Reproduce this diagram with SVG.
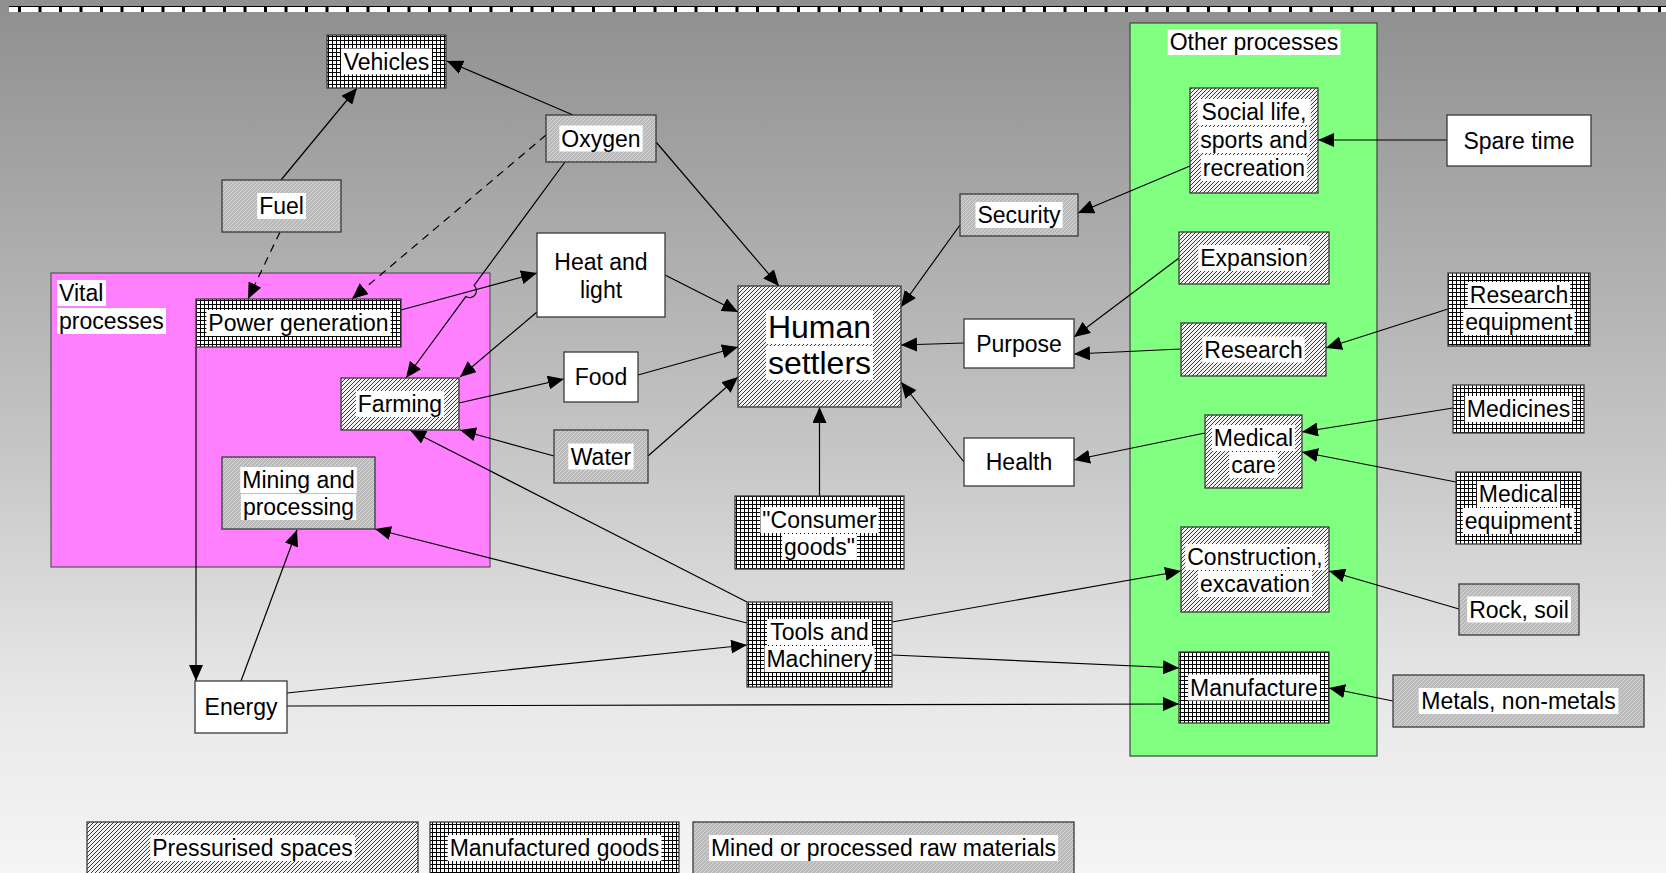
<svg xmlns="http://www.w3.org/2000/svg" width="1666" height="873" viewBox="0 0 1666 873">
<defs>
<linearGradient id="bg" x1="0" y1="0" x2="0" y2="1">
<stop offset="0" stop-color="#8f8f8f"/>
<stop offset="0.5" stop-color="#c4c4c4"/>
<stop offset="0.8" stop-color="#e8e8e8"/>
<stop offset="1" stop-color="#f5f5f5"/>
</linearGradient>
<pattern id="pPress" width="4" height="4" patternUnits="userSpaceOnUse">
<rect width="4" height="4" fill="#f2f2f2"/>
<path d="M-1,1 L1,-1 M0,4 L4,0 M3,5 L5,3" stroke="#3c3c3c" stroke-width="1"/>
</pattern>
<pattern id="pManu" width="4" height="4" patternUnits="userSpaceOnUse">
<rect width="4" height="4" fill="#ffffff"/>
<path d="M0,0.5 H4 M0.5,0 V4" stroke="#000" stroke-width="1"/>
</pattern>
<pattern id="pRaw" width="4" height="4" patternUnits="userSpaceOnUse">
<rect width="4" height="4" fill="#bababa"/>
<path d="M-1,1 L1,-1 M0,4 L4,0 M3,5 L5,3" stroke="#d6d6d6" stroke-width="1"/>
</pattern>
<marker id="arr" markerUnits="userSpaceOnUse" markerWidth="16" markerHeight="14" viewBox="0 0 16 14" refX="16" refY="7" orient="auto">
<path d="M0,0 L16,7 L0,14 z" fill="#000"/>
</marker>
<style>
text { font-family: "Liberation Sans", Arial, sans-serif; font-size: 23px; fill: #000; text-anchor: middle; }
.big { font-size: 32px; }
.left { text-anchor: start; }
.box { stroke: #3a3a3a; stroke-width: 1.3; }
.press { fill: url(#pPress); }
.manu { fill: url(#pManu); }
.raw { fill: url(#pRaw); }
.plain { fill: #ffffff; }
.tbg { fill: #ffffff; }
.edge { stroke: #000; stroke-width: 1.2; fill: none; marker-end: url(#arr); }
.dash { stroke-dasharray: 8 6; }
</style>
</defs>

<rect x="0" y="0" width="1666" height="873" fill="url(#bg)"/>
<g id="top-rule">
<rect x="9" y="6" width="1657" height="6" fill="#ffffff"/>
<line x1="9" y1="6.5" x2="1666" y2="6.5" stroke="#000" stroke-width="1"/>
<line x1="18" y1="9" x2="1666" y2="9" stroke="#000" stroke-width="6" stroke-dasharray="3 17.5"/>
</g>

<g id="vital-processes">
<rect x="51" y="273" width="439" height="294" fill="#ff80ff" stroke="#555" stroke-width="1.2"/>
<rect class="tbg" x="57" y="280" width="49" height="26"/>
<text class="left" x="59" y="301">Vital</text>
<rect class="tbg" x="57" y="308" width="109" height="26"/>
<text class="left" x="59" y="329">processes</text>
</g>

<g id="other-processes">
<rect x="1130" y="23" width="247" height="733" fill="#80ff80" stroke="#444" stroke-width="1.2"/>
<rect class="tbg" x="1167.7" y="29" width="172.7" height="26"/>
<text x="1254" y="50">Other processes</text>
</g>

<g id="connectors">
<line class="edge" x1="281" y1="180" x2="357" y2="88"/>
<line class="edge" x1="573" y1="115" x2="447" y2="61"/>
<line class="edge" x1="656" y1="142" x2="779" y2="286"/>
<line class="edge dash" x1="546" y1="135" x2="352" y2="299"/>
<line class="edge dash" x1="280" y1="232" x2="248" y2="299"/>
<path class="edge" d="M565,162 L474.1,285.4 A7,7 0 0,1 465.8,296.6 L406,378"/>
<line class="edge" x1="401" y1="310" x2="537" y2="273"/>
<line class="edge" x1="537" y1="312" x2="460" y2="377"/>
<line class="edge" x1="665" y1="275" x2="738" y2="312"/>
<line class="edge" x1="459" y1="403" x2="564" y2="379"/>
<line class="edge" x1="638" y1="375" x2="738" y2="347"/>
<line class="edge" x1="554" y1="456" x2="460" y2="430"/>
<line class="edge" x1="648" y1="456" x2="738" y2="377"/>
<line class="edge" x1="819.5" y1="496" x2="819.5" y2="407"/>
<line class="edge" x1="960" y1="225" x2="901" y2="307"/>
<line class="edge" x1="964" y1="343" x2="901" y2="345"/>
<line class="edge" x1="964" y1="462" x2="901" y2="382"/>
<line class="edge" x1="1190" y1="166" x2="1078" y2="213"/>
<line class="edge" x1="1179" y1="258" x2="1074" y2="337"/>
<line class="edge" x1="1181" y1="349" x2="1074" y2="354"/>
<line class="edge" x1="1205" y1="433" x2="1074" y2="460"/>
<line class="edge" x1="1447" y1="140" x2="1318" y2="140"/>
<line class="edge" x1="1448" y1="309" x2="1326" y2="348"/>
<line class="edge" x1="1453" y1="408" x2="1302" y2="432"/>
<line class="edge" x1="1456" y1="482" x2="1302" y2="452"/>
<line class="edge" x1="1459" y1="609" x2="1329" y2="571"/>
<line class="edge" x1="1393" y1="701" x2="1329" y2="688"/>
<line class="edge" x1="892" y1="622" x2="1181" y2="571"/>
<line class="edge" x1="892" y1="655" x2="1179" y2="668"/>
<line class="edge" x1="287" y1="706" x2="1179" y2="704"/>
<line class="edge" x1="287" y1="693" x2="747" y2="645"/>
<line class="edge" x1="241" y1="681" x2="297" y2="530"/>
<line class="edge" x1="196" y1="347" x2="196" y2="681"/>
<line class="edge" x1="747" y1="623" x2="375" y2="529"/>
<line class="edge" x1="747" y1="602" x2="410" y2="430"/>
</g>

<g id="vehicles">
<rect class="box manu" x="327" y="35" width="119" height="53"/>
<rect class="tbg" x="341" y="48.5" width="91" height="26"/>
<text x="386.5" y="69.5">Vehicles</text>
</g>
<g id="oxygen">
<rect class="box raw" x="546" y="115" width="110" height="47"/>
<rect class="tbg" x="559.4" y="125.5" width="83.3" height="26"/>
<text x="601" y="146.5">Oxygen</text>
</g>
<g id="fuel">
<rect class="box raw" x="222" y="180" width="119" height="52"/>
<rect class="tbg" x="257.2" y="193" width="48.7" height="26"/>
<text x="281.5" y="214">Fuel</text>
</g>
<g id="heat-and-light">
<rect class="box plain" x="537" y="233" width="128" height="84"/>
<text x="601" y="270">Heat and</text>
<text x="601" y="298">light</text>
</g>
<g id="food">
<rect class="box plain" x="564" y="352" width="74" height="50"/>
<text x="601" y="385">Food</text>
</g>
<g id="water">
<rect class="box raw" x="554" y="430" width="94" height="53"/>
<rect class="tbg" x="568.3" y="443.5" width="65.3" height="26"/>
<text x="601" y="464.5">Water</text>
</g>
<g id="human-settlers">
<rect class="box press" x="738" y="286" width="163" height="121"/>
<rect class="tbg" x="766" y="310" width="107" height="34"/>
<rect class="tbg" x="766" y="346" width="107" height="34"/>
<text class="big" x="819.5" y="338">Human</text>
<text class="big" x="819.5" y="374">settlers</text>
</g>
<g id="consumer-goods">
<rect class="box manu" x="735" y="496" width="169" height="73"/>
<rect class="tbg" x="760.4" y="507" width="118.2" height="26"/>
<rect class="tbg" x="782.1" y="534" width="74.8" height="26"/>
<text x="819.5" y="528">"Consumer</text>
<text x="819.5" y="555">goods"</text>
</g>
<g id="power-generation">
<rect class="box manu" x="196" y="299" width="205" height="48"/>
<rect class="tbg" x="206.4" y="310" width="184.3" height="26"/>
<text x="298.5" y="331">Power generation</text>
</g>
<g id="farming">
<rect class="box press" x="341" y="378" width="118" height="52"/>
<rect class="tbg" x="355.9" y="391" width="88.3" height="26"/>
<text x="400" y="412">Farming</text>
</g>
<g id="mining-and-processing">
<rect class="box raw" x="222" y="457" width="153" height="72"/>
<rect class="tbg" x="240.3" y="467" width="116.5" height="26"/>
<rect class="tbg" x="240.9" y="494" width="115.2" height="26"/>
<text x="298.5" y="488">Mining and</text>
<text x="298.5" y="515">processing</text>
</g>
<g id="energy">
<rect class="box plain" x="195" y="681" width="92" height="52"/>
<text x="241" y="715">Energy</text>
</g>
<g id="tools-and-machinery">
<rect class="box manu" x="747" y="602" width="145" height="85"/>
<rect class="tbg" x="767" y="619" width="105" height="26"/>
<rect class="tbg" x="764.5" y="646" width="110.1" height="26"/>
<text x="819.5" y="640">Tools and</text>
<text x="819.5" y="667">Machinery</text>
</g>
<g id="security">
<rect class="box raw" x="960" y="194" width="118" height="42"/>
<rect class="tbg" x="975.5" y="202" width="87.1" height="26"/>
<text x="1019" y="223">Security</text>
</g>
<g id="purpose">
<rect class="box plain" x="964" y="319" width="110" height="49"/>
<text x="1019" y="351.5">Purpose</text>
</g>
<g id="health">
<rect class="box plain" x="964" y="438" width="110" height="48"/>
<text x="1019" y="470">Health</text>
</g>
<g id="social-life">
<rect class="box press" x="1190" y="88" width="128" height="105"/>
<rect class="tbg" x="1197.3" y="99" width="113.4" height="26"/>
<rect class="tbg" x="1198.3" y="127" width="111.4" height="26"/>
<rect class="tbg" x="1200.9" y="155" width="106.3" height="26"/>
<text x="1254" y="120">Social life,</text>
<text x="1254" y="148">sports and</text>
<text x="1254" y="176">recreation</text>
</g>
<g id="spare-time">
<rect class="box plain" x="1447" y="115" width="144" height="51"/>
<text x="1519" y="148.5">Spare time</text>
</g>
<g id="expansion">
<rect class="box press" x="1179" y="232" width="150" height="52"/>
<rect class="tbg" x="1198.3" y="245" width="111.4" height="26"/>
<text x="1254" y="266">Expansion</text>
</g>
<g id="research-equipment">
<rect class="box manu" x="1448" y="273" width="142" height="73"/>
<rect class="tbg" x="1467.8" y="282" width="102.4" height="26"/>
<rect class="tbg" x="1463.3" y="309" width="111.4" height="26"/>
<text x="1519" y="303">Research</text>
<text x="1519" y="330">equipment</text>
</g>
<g id="research">
<rect class="box press" x="1181" y="323" width="145" height="53"/>
<rect class="tbg" x="1202.3" y="336.5" width="102.4" height="26"/>
<text x="1253.5" y="357.5">Research</text>
</g>
<g id="medicines">
<rect class="box manu" x="1453" y="385" width="131" height="48"/>
<rect class="tbg" x="1464.8" y="396" width="107.5" height="26"/>
<text x="1518.5" y="417">Medicines</text>
</g>
<g id="medical-care">
<rect class="box press" x="1205" y="415" width="97" height="73"/>
<rect class="tbg" x="1211.9" y="425" width="83.2" height="26"/>
<rect class="tbg" x="1229.2" y="452" width="48.7" height="26"/>
<text x="1253.5" y="446">Medical</text>
<text x="1253.5" y="473">care</text>
</g>
<g id="medical-equipment">
<rect class="box manu" x="1456" y="472" width="125" height="72"/>
<rect class="tbg" x="1476.9" y="481" width="83.2" height="26"/>
<rect class="tbg" x="1462.8" y="508" width="111.4" height="26"/>
<text x="1518.5" y="502">Medical</text>
<text x="1518.5" y="529">equipment</text>
</g>
<g id="construction">
<rect class="box press" x="1181" y="527" width="148" height="85"/>
<rect class="tbg" x="1185.3" y="544" width="139.5" height="26"/>
<rect class="tbg" x="1198" y="571" width="114" height="26"/>
<text x="1255" y="565">Construction,</text>
<text x="1255" y="592">excavation</text>
</g>
<g id="rock-soil">
<rect class="box raw" x="1459" y="584" width="120" height="51"/>
<rect class="tbg" x="1467.2" y="596.5" width="103.7" height="26"/>
<text x="1519" y="617.5">Rock, soil</text>
</g>
<g id="manufacture">
<rect class="box manu" x="1179" y="652" width="150" height="71"/>
<rect class="tbg" x="1188.1" y="674.5" width="131.8" height="26"/>
<text x="1254" y="695.5">Manufacture</text>
</g>
<g id="metals">
<rect class="box raw" x="1393" y="675" width="251" height="52"/>
<rect class="tbg" x="1418.7" y="688" width="199.7" height="26"/>
<text x="1518.5" y="709">Metals, non-metals</text>
</g>

<g id="legend-pressurised">
<rect class="box press" x="87" y="822" width="331" height="60"/>
<rect class="tbg" x="150.2" y="835" width="204.7" height="26"/>
<text x="252.5" y="856">Pressurised spaces</text>
</g>
<g id="legend-manufactured">
<rect class="box manu" x="430" y="822" width="249" height="60"/>
<rect class="tbg" x="447.7" y="835" width="213.7" height="26"/>
<text x="554.5" y="856">Manufactured goods</text>
</g>
<g id="legend-raw">
<rect class="box raw" x="693" y="822" width="381" height="60"/>
<rect class="tbg" x="709" y="835" width="349.1" height="26"/>
<text x="883.5" y="856">Mined or processed raw materials</text>
</g>
</svg>
